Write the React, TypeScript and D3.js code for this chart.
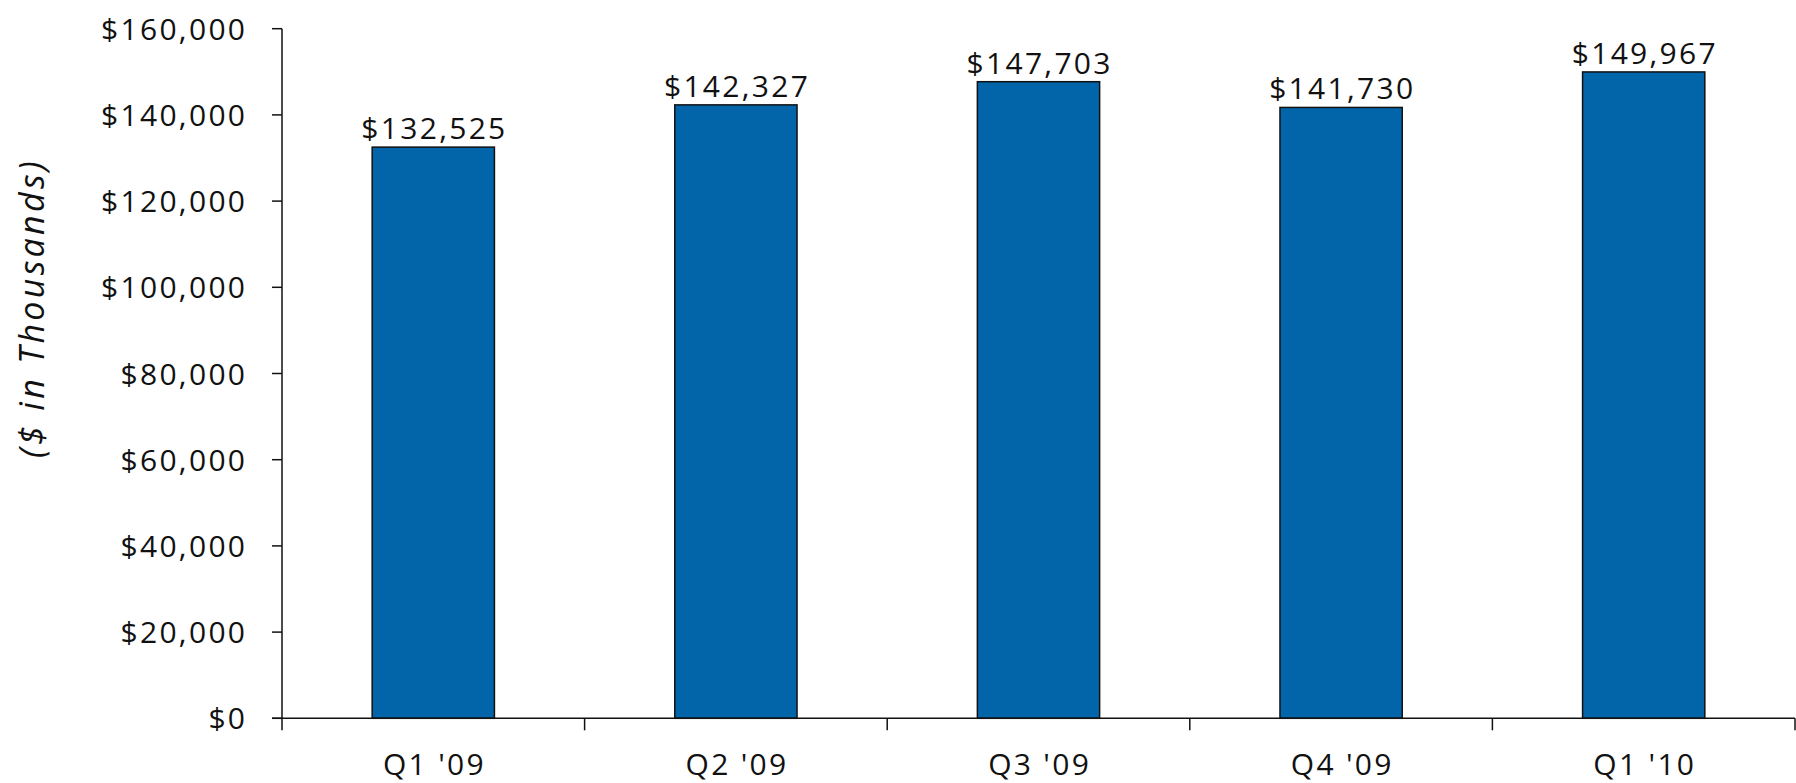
import React from "react";
import * as d3 from "d3";

const categories = ["Q1 '09", "Q2 '09", "Q3 '09", "Q4 '09", "Q1 '10"];
const values = [132525, 142327, 147703, 141730, 149967];
const yTicks = [0, 20000, 40000, 60000, 80000, 100000, 120000, 140000, 160000];

const W = 1796;
const H = 783;
const left = 282;
const right = 1795;
const top = 28.7;
const bottom = 718.3;
const FONT = "'Open Sans', sans-serif";
const LS = 2.3;

export default function App() {
  const x = d3.scaleBand<string>().domain(categories).range([left, right]).paddingInner(0.596).paddingOuter(0.298);
  const xb = d3.scaleBand<string>().domain(categories).range([left, right]).padding(0);
  const y = d3.scaleLinear().domain([0, 160000]).range([bottom, top]);
  const fmt = (v: number) => "$" + d3.format(",")(v);
  const bounds = [left, ...categories.map((c) => (xb(c) as number) + xb.bandwidth())];

  return (
    <svg width={W} height={H} style={{ position: "absolute", left: 0, top: 0, background: "#fff" }}>
      {values.map((v, i) => (
        <rect
          key={i}
          x={x(categories[i])}
          y={y(v)}
          width={x.bandwidth()}
          height={y(0) - y(v)}
          fill="#0265AA"
          stroke="#111"
          strokeWidth={1.5}
        />
      ))}
      {values.map((v, i) => (
        <text
          key={"l" + i}
          x={(x(categories[i]) as number) + x.bandwidth() / 2 + LS / 2}
          y={y(v) - 8}
          textAnchor="middle"
          fontFamily={FONT}
          fontSize={30}
          letterSpacing={LS}
          fill="#111"
        >
          {fmt(v)}
        </text>
      ))}
      {/* y axis */}
      <line x1={left} x2={left} y1={top} y2={bottom} stroke="#111" strokeWidth={1.5} />
      {yTicks.map((t) => (
        <g key={t}>
          <line x1={left - 10} x2={left} y1={y(t)} y2={y(t)} stroke="#111" strokeWidth={1.5} />
          <text
            x={245 + LS}
            y={y(t) + 11}
            textAnchor="end"
            fontFamily={FONT}
            fontSize={30}
            letterSpacing={LS}
            fill="#111"
          >
            {fmt(t)}
          </text>
        </g>
      ))}
      {/* x axis */}
      <line x1={left - 10} x2={right} y1={bottom} y2={bottom} stroke="#111" strokeWidth={1.5} />
      {bounds.map((b, i) => (
        <line key={"t" + i} x1={b} x2={b} y1={bottom} y2={bottom + 12} stroke="#111" strokeWidth={1.5} />
      ))}
      {categories.map((c) => (
        <text
          key={c}
          x={(xb(c) as number) + xb.bandwidth() / 2 + LS / 2}
          y={775}
          textAnchor="middle"
          fontFamily={FONT}
          fontSize={30}
          letterSpacing={LS}
          fill="#111"
        >
          {c}
        </text>
      ))}
      <text
        transform={`translate(44, 308) rotate(-90)`}
        textAnchor="middle"
        fontFamily={FONT}
        fontStyle="italic"
        fontSize={34}
        letterSpacing={3.3}
        fill="#111"
      >
        ($ in Thousands)
      </text>
    </svg>
  );
}
